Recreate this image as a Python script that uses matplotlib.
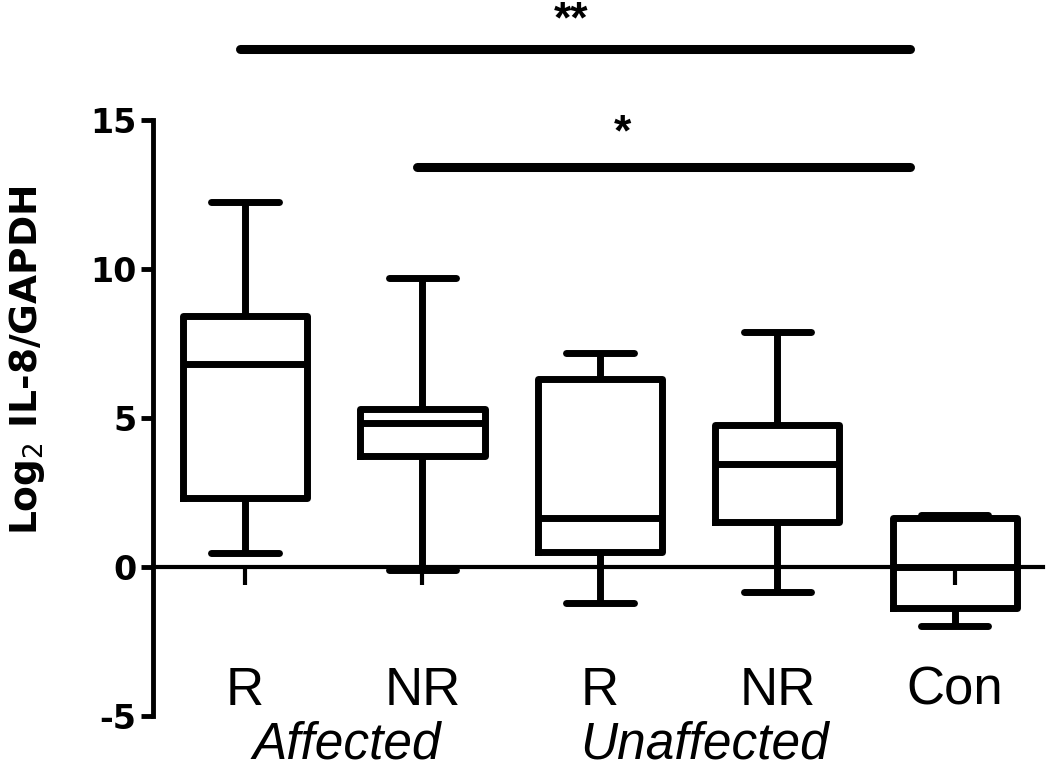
import matplotlib
matplotlib.use("Agg")
import matplotlib.pyplot as plt

plt.rcParams['axes.unicode_minus'] = False

# Data
groups = ['R', 'NR', 'R', 'NR', 'Con']
whis_lo = [0.47, -0.10, -1.21, -0.84, -1.99]
q1 = [2.32, 3.74, 0.50, 1.52, -1.38]
median = [6.80, 4.85, 1.65, 3.47, 0.00]
q3 = [8.42, 5.29, 6.30, 4.75, 1.65]
whis_hi = [12.26, 9.70, 7.17, 7.88, 1.75]

conditions = ['Affected', 'Unaffected']
condition_x = [1.575, 3.59]

# significance bars: (x start, x end, y, label, label x, label top y)
sig_bars = [(0.97, 4.75, 17.38, '**', 2.84, 19.03),
            (1.97, 4.75, 13.42, '*', 3.13, 15.21)]

positions = list(range(1, len(groups) + 1))
stats = []
for i in range(len(groups)):
    stats.append({'med': median[i], 'q1': q1[i], 'q3': q3[i],
                  'whislo': whis_lo[i], 'whishi': whis_hi[i], 'fliers': []})

fig = plt.figure(figsize=(10.5, 7.71), dpi=100)
ax = fig.add_axes([153 / 1050, 55 / 771, 890 / 1050, 716 / 771])

lw = 5
ax.bxp(stats, positions=positions, widths=0.70, capwidths=0.38,
       showfliers=False,
       boxprops=dict(color='black', linewidth=lw, solid_joinstyle='round'),
       medianprops=dict(color='black', linewidth=lw, solid_capstyle='butt'),
       whiskerprops=dict(color='black', linewidth=lw, solid_capstyle='butt'),
       capprops=dict(color='black', linewidth=lw, solid_capstyle='round'))

ax.set_xlim(0.481, 5.498)
ax.set_ylim(-5, 19.03)

# axes styling
ax.spines['top'].set_visible(False)
ax.spines['right'].set_visible(False)
ax.spines['left'].set_bounds(-5, 15)
ax.spines['left'].set_linewidth(3.5)
ax.spines['bottom'].set_position(('data', 0))
ax.spines['bottom'].set_linewidth(3.0)

ax.set_yticks([-5, 0, 5, 10, 15])
ax.set_yticklabels(['-5', '0', '5', '10', '15'])
ax.tick_params(axis='y', length=9, width=3.5, pad=3, labelsize=24)
for lab in ax.get_yticklabels():
    lab.set_fontfamily('DejaVu Sans')
    lab.set_fontweight('bold')

ax.set_xticks(positions)
ax.tick_params(axis='x', direction='out', length=13, width=3.0,
               labelbottom=False)

ax.set_ylabel('Log$_2$ IL-8/GAPDH', fontsize=27, fontweight='bold',
              family='DejaVu Sans')
ax.yaxis.set_label_coords(-0.119, 0.497)

# group labels under the boxes
for x, g in zip(positions, groups):
    ax.text(x, -4.63, g, ha='center', va='baseline', fontsize=38,
            family='Liberation Sans')
for x, c in zip(condition_x, conditions):
    ax.text(x, -6.44, c, ha='center', va='baseline', fontsize=37,
            family='Liberation Sans', style='italic', clip_on=False)

# significance bars
for x0, x1, y, s, sx, sy in sig_bars:
    ax.plot([x0, x1], [y, y], color='black', linewidth=6.5,
            solid_capstyle='round', clip_on=False)
    ax.text(sx, sy, s, ha='center', va='top', fontsize=32,
            fontweight='bold', family='Liberation Sans')

fig.savefig('out.png', dpi=100)
